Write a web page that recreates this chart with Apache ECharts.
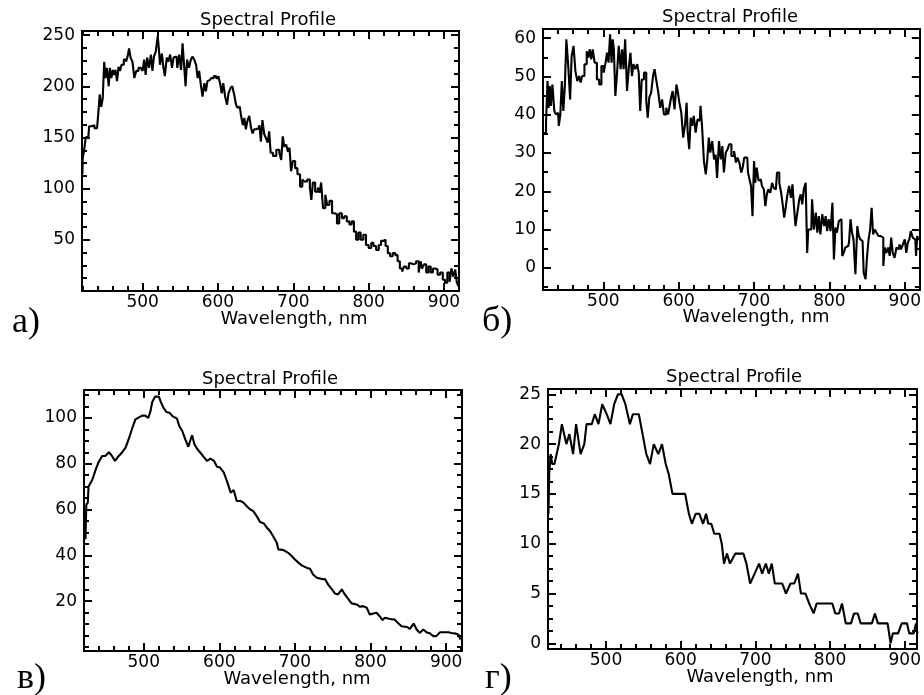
<!DOCTYPE html>
<html>
<head>
<meta charset="utf-8">
<script src="https://cdn.jsdelivr.net/npm/echarts@6/dist/echarts.min.js"></script>
<style>
html,body{margin:0;padding:0;background:#fff;}
#chart{width:924px;height:695px;}
</style>
</head>
<body>
<div id="chart"></div>
<script>
// ---------- DATA ----------
const xTickLabels = [500, 600, 700, 800, 900];
const yTicksA = [50, 100, 150, 200, 250];
const yTicksB = [0, 10, 20, 30, 40, 50, 60];
const yTicksC = [20, 40, 60, 80, 100];
const yTicksD = [0, 5, 10, 15, 20, 25];

// Panel а)
const waveA = [420,421,423,426,428,430,434,438,441,442,444,446,448,450,451,454,456,457,460,461,463,465,467,469,471,473,477,479,481,483,485,488,490,493,496,499,501,503,505,507,510,512,514,516,519,521,522,524,527,528,531,533,535,538,540,542,545,547,550,552,554,556,558,560,563,565,567,570,572,574,576,578,581,583,585,587,589,593,596,599,602,604,606,608,611,613,615,618,620,623,625,627,629,632,634,636,638,640,643,645,647,649,651,654,656,658,660,663,665,667,669,671,675,680,683,685,687,689,692,694,696,698,701,704,707,711,713,716,721,723,725,727,731,734,736,738,741,744,746,750,753,757,759,763,766,769,773,776,779,782,785,788,791,795,798,802,805,808,812,815,818,821,824,827,830,834,837,840,843,846,848,852,855,858,861,865,868,870,872,875,878,881,884,887,890,893,897,900,903,906,909,911,914,916,918,920];
const valA = [114,130,136,150,151,161,162,159,159,177,192,180,188,224,208,218,200,218,208,216,211,216,205,219,215,221,226,224,229,237,228,224,208,215,218,219,215,226,211,228,218,231,215,229,234,249,237,221,232,219,210,228,224,231,218,228,229,218,231,216,242,221,200,226,218,226,229,226,221,208,215,203,190,203,195,205,206,208,210,208,210,202,193,203,190,182,193,198,200,192,182,179,180,172,162,169,158,166,171,159,154,158,158,159,162,146,167,153,149,145,156,135,132,138,135,128,151,141,143,136,140,117,127,120,114,102,109,107,109,101,89,106,97,101,96,106,81,94,84,88,76,75,66,76,71,73,68,65,68,58,50,57,50,55,45,42,47,44,40,45,49,50,44,37,34,37,35,29,22,19,24,22,27,26,27,29,18,29,22,26,18,24,18,22,21,16,18,11,8,18,9,22,14,21,9,5];

// Panel б)
const waveB = [421,423,425,427,428,430,431,434,436,438,440,442,444,446,448,450,452,455,457,459,462,464,467,469,471,473,477,479,481,483,485,487,490,493,496,499,502,504,506,508,510,512,513,515,517,519,522,524,526,528,530,533,535,537,539,541,544,546,548,550,552,556,558,560,562,565,567,569,572,574,577,579,582,585,587,589,591,593,596,598,600,602,605,607,610,611,613,615,617,619,621,624,626,628,630,632,635,637,639,641,643,646,648,650,652,655,657,659,661,664,666,668,672,675,677,679,682,684,686,688,691,693,695,697,699,701,702,705,707,709,712,714,716,718,720,723,725,727,729,732,735,737,739,741,743,745,748,750,752,754,756,759,761,763,765,767,770,771,773,776,778,781,783,785,787,789,792,794,796,798,800,803,805,807,809,811,814,816,818,820,822,825,827,829,831,833,836,838,840,842,844,847,849,851,853,855,857,859,861,864,866,870,873,874,877,879,881,883,885,888,890,892,894,896,899,901,903,905,907,909,912,914,916,917,919];
const valB = [35.2,35.3,37.9,48.8,41.8,47.5,42.3,47.9,41.0,40.1,40.5,37.1,40.1,48.8,41.0,47.5,59.7,52.7,44.0,55.3,58.0,51.4,48.8,50.1,48.4,50.1,53.2,56.6,54.9,57.1,54.5,57.1,53.6,49.2,47.9,52.7,51.0,53.6,56.2,53.6,61.0,53.6,59.7,57.1,44.9,50.1,58.0,51.9,57.1,51.9,59.7,46.2,52.7,56.2,50.1,53.2,51.9,53.2,51.0,41.0,49.2,51.0,43.6,39.2,44.5,45.8,50.1,51.9,48.8,45.8,41.8,44.0,40.1,41.8,40.1,42.3,44.5,46.2,41.4,47.9,45.8,43.1,40.5,34.0,37.5,43.1,35.3,31.0,39.2,37.1,39.7,35.3,38.8,38.4,42.3,37.1,27.9,24.4,28.3,34.0,30.1,33.1,28.3,29.6,23.5,33.1,28.3,31.8,24.9,30.1,31.0,32.3,29.2,30.5,27.5,28.8,27.5,24.9,26.2,28.8,28.8,24.9,23.1,21.4,13.5,27.9,22.2,26.2,22.7,23.1,21.4,20.5,16.1,19.2,20.5,19.6,22.2,20.9,20.5,24.9,22.2,19.6,16.6,13.1,15.7,18.8,21.4,18.3,21.8,16.1,10.9,14.4,17.9,19.2,16.6,20.5,22.2,3.9,10.0,10.0,17.9,10.0,14.4,9.2,13.5,8.7,14.0,10.9,13.5,9.6,12.7,9.6,17.0,2.2,10.5,9.2,12.2,12.7,3.1,3.9,5.3,5.7,6.6,12.7,9.2,7.4,-1.7,10.9,8.3,7.4,7.0,-1.3,-3.0,3.1,7.4,10.0,15.7,8.7,10.0,9.2,8.3,7.9,0.5,5.3,3.9,5.3,3.1,7.9,3.9,2.6,5.3,4.8,6.1,4.8,6.1,7.4,3.9,6.6,7.4,9.6,7.9,7.4,3.1,8.3,7.4];

// Panel в)
const waveC = [422,423,424,426,427,432,436,440,445,449,454,458,462,467,471,476,480,485,489,493,498,502,506,509,511,515,520,523,526,530,534,538,544,547,551,555,559,562,564,567,571,575,579,584,588,593,597,601,606,610,615,619,623,628,632,637,641,645,650,654,659,663,667,671,676,678,685,691,696,700,705,709,716,720,724,729,735,740,744,749,753,757,762,766,771,775,782,786,790,795,799,804,808,812,816,819,826,832,837,841,848,852,857,861,865,870,874,879,883,887,892,896,903,907,913,916,919];
const valC = [60,47,62,63,70,73,77,80.5,83.4,83.4,85,83.4,81.2,83.4,84.8,87,90.6,95.7,99.4,100.1,101,101,100,103,106.7,109.3,109.3,106.7,104.5,102.6,102.3,100.8,99.7,96.5,94.3,90.6,87.4,90.6,92.4,88.5,86.3,84.8,83.1,81.2,82.2,81.2,78.7,78.3,76.1,72.5,67.3,68.5,63.7,63.7,63,61.2,60,59.3,56.8,54.5,53.9,52,50.6,48.4,45.5,42.6,42.3,41.1,39.6,38.2,36.7,35.6,34.5,34.1,31.6,30.2,29.7,29.5,27.2,25.1,23.3,22.9,25.1,22.9,20.7,19,18.5,17.5,17.8,17.1,14.1,14.6,14.9,13.4,11.7,12.7,12.2,11.9,10.2,9,8.7,7.9,10.2,7.6,6.1,7.6,6.4,5.8,4.7,4.7,6.4,6.4,6.4,6.1,5.8,5.4,3.2];

// Panel г)
const waveD = [423,424,426,428,431,434,437,441,444,447,451,453,456,460,462,466,471,474,481,485,490,495,501,506,511,516,521,526,532,536,544,549,554,559,564,570,575,580,584,589,606,611,615,620,625,630,634,637,641,645,652,655,658,662,666,668,673,684,688,693,699,705,709,714,718,722,726,736,741,747,752,757,761,767,772,778,782,803,807,812,816,821,828,832,837,841,856,860,864,877,881,884,891,896,903,906,912,915,917];
const valD = [13,17,19,18,18,19,20,22,21,20,21,21,19,22,22,19,20,22,22,23,22,24,23,22,24,25,25,24,22,23,23,21,19,18,20,19,20,18,17,15,15,13,12,13,13,12,13,12,12,11,11,10,8,9,8,8,9,9,8,6,7,8,7,8,7,8,6,6,5,6,6,7,5,5,4,3,4,4,3,3,4,2,2,3,3,2,2,3,2,2,0,1,1,2,2,1,1,2,1];

// ---------- LAYOUT ----------
const FONT = '"DejaVu Sans", Verdana, sans-serif';
const panels = [
  {grid:{left:82, top:31, width:377, height:260}, xr:[419.5, 920], yr:[0, 254], yMajor:yTicksA, yMinor:12.5,
   wave:waveA, val:valA, step:'middle', title:[268,20], name:[294,319], letter:['а)', 12, 323]},
  {grid:{left:543, top:29, width:379, height:261}, xr:[420, 920], yr:[-5.8, 62.4], yMajor:yTicksB, yMinor:5,
   wave:waveB, val:valB, step:'middle', title:[730,17], name:[756,317], letter:['б)', 482, 322]},
  {grid:{left:84, top:390, width:378, height:261}, xr:[421, 921], yr:[-1.8, 112.2], yMajor:yTicksC, yMinor:5,
   wave:waveC, val:valC, step:false, title:[270,379], name:[297,679], letter:['в)', 17, 679]},
  {grid:{left:548, top:389, width:375, height:260}, xr:[422.4, 916.5], yr:[-0.57, 25.53], yMajor:yTicksD, yMinor:1.25,
   wave:waveD, val:valD, step:false, title:[734,377], name:[760,677], letter:['г)', 485, 679]}
];

function minorList(lo, hi, step, majors) {
  const out = [];
  const start = Math.ceil(lo / step - 1e-9);
  for (let k = start; k * step <= hi + 1e-9; k++) {
    const v = +(k * step).toFixed(4);
    if (!majors.some(m => Math.abs(m - v) < 1e-6)) out.push(v);
  }
  return out;
}

const grids = [], xAxes = [], yAxes = [], series = [], graphics = [];
const lineStyle = {color:'#000', width:2};

panels.forEach((p, gi) => {
  grids.push(Object.assign({containLabel:false}, p.grid));
  const xMinor = minorList(p.xr[0], p.xr[1], 20, xTickLabels);
  const yMinor = minorList(p.yr[0], p.yr[1], p.yMinor, p.yMajor);
  const xBase = xAxes.length, yBase = yAxes.length;
  ['bottom','top'].forEach((pos, pi) => {
    xAxes.push({type:'value', gridIndex:gi, position:pos, min:p.xr[0], max:p.xr[1],
      axisLine:{show:true, onZero:false, lineStyle:lineStyle},
      axisTick:{show:true, inside:true, length:8, customValues:xTickLabels, lineStyle:{color:'#000', width:2}},
      axisLabel:{show: pi === 0, customValues:xTickLabels, margin:3, color:'#000', fontFamily:FONT, fontSize:17},
      splitLine:{show:false}, minorTick:{show:false}});
    xAxes.push({type:'value', gridIndex:gi, position:pos, min:p.xr[0], max:p.xr[1],
      axisLine:{show:false, onZero:false},
      axisTick:{show:true, inside:true, length:5, customValues:xMinor, lineStyle:{color:'#000', width:2}},
      axisLabel:{show:false}, splitLine:{show:false}});
  });
  ['left','right'].forEach((pos, pi) => {
    yAxes.push({type:'value', gridIndex:gi, position:pos, min:p.yr[0], max:p.yr[1],
      axisLine:{show:true, onZero:false, lineStyle:lineStyle},
      axisTick:{show:true, inside:true, length:8, customValues:p.yMajor, lineStyle:{color:'#000', width:2}},
      axisLabel:{show: pi === 0, customValues:p.yMajor, margin:7, color:'#000', fontFamily:FONT, fontSize:17},
      splitLine:{show:false}});
    yAxes.push({type:'value', gridIndex:gi, position:pos, min:p.yr[0], max:p.yr[1],
      axisLine:{show:false, onZero:false},
      axisTick:{show:true, inside:true, length:5, customValues:yMinor, lineStyle:{color:'#000', width:2}},
      axisLabel:{show:false}, splitLine:{show:false}});
  });
  series.push({type:'line', xAxisIndex:xBase, yAxisIndex:yBase,
    data:p.wave.map((w, i) => [w, p.val[i]]),
    step:p.step, showSymbol:false, symbol:'none', clip:true,
    lineStyle:{color:'#000', width:2.1}, silent:true});
  graphics.push({type:'text', x:p.title[0], y:p.title[1],
    style:{text:'Spectral Profile', font:'18px ' + FONT, fill:'#000', align:'center', verticalAlign:'middle', textAlign:'center', textVerticalAlign:'middle'}});
  graphics.push({type:'text', x:p.name[0], y:p.name[1],
    style:{text:'Wavelength, nm', font:'18px ' + FONT, fill:'#000', align:'center', verticalAlign:'middle', textAlign:'center', textVerticalAlign:'middle'}});
  graphics.push({type:'text', x:p.letter[1], y:p.letter[2],
    style:{text:p.letter[0], font:'36px "Liberation Serif", "Times New Roman", serif', fill:'#000', align:'left', verticalAlign:'middle', textAlign:'left', textVerticalAlign:'middle'}});
});

const chart = echarts.init(document.getElementById('chart'), null, {renderer:'canvas'});
chart.setOption({
  animation:false,
  backgroundColor:'#fff',
  grid:grids, xAxis:xAxes, yAxis:yAxes, series:series, graphic:graphics
});
</script>
</body>
</html>
